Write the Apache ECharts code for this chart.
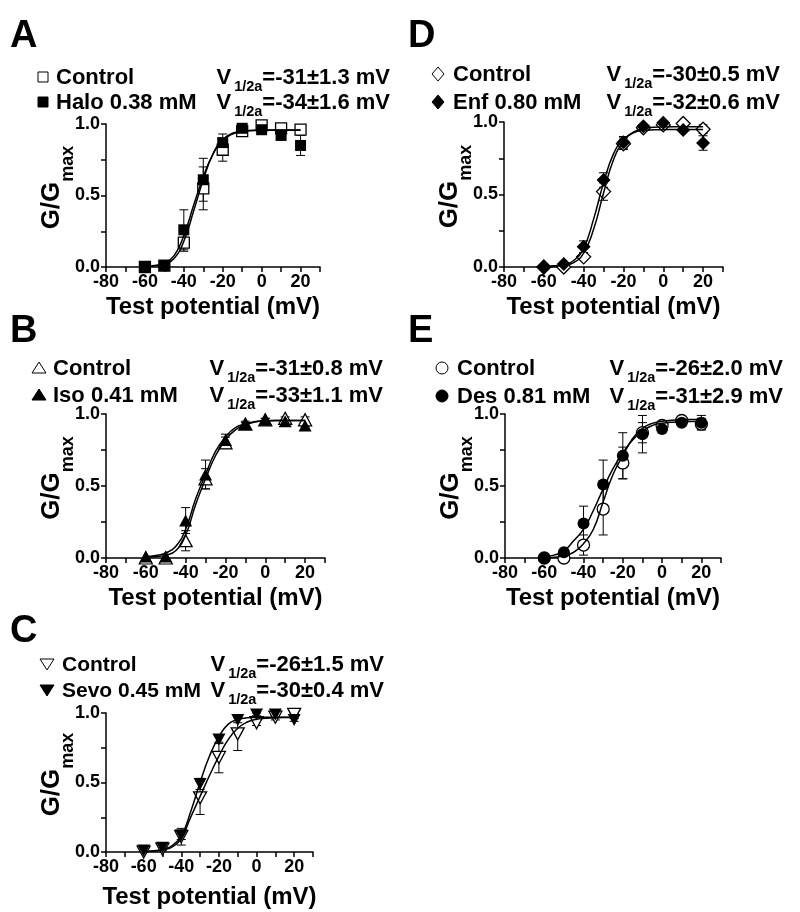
<!DOCTYPE html>
<html>
<head>
<meta charset="utf-8">
<script src="https://cdn.jsdelivr.net/npm/echarts@6/dist/echarts.min.js"></script>
<style>
  html, body { margin: 0; padding: 0; background: #fff; }
  #chart { width: 800px; height: 912px; }
</style>
</head>
<body>
<div id="chart"></div>
<script>
// ------------------------------
// DATA
// ------------------------------
const voltages = [-60, -50, -40, -30, -20, -10, 0, 10, 20];
const fitVoltages = [-60, -55, -50, -45, -40, -35, -30, -25, -20, -15, -10, -5, 0, 5, 10, 15, 20];
const xTickLabels = [-80, -60, -40, -20, 0, 20];
const yTickLabels = [0, 0.5, 1];

// A: halothane
const haloLabels = ["Control", "Halo 0.38 mM"];
const haloV = ["=-31\u00b11.3 mV", "=-34\u00b11.6 mV"];
const haloCtrl = [0, 0.01, 0.17, 0.55, 0.82, 0.95, 0.99, 0.97, 0.96];
const haloCtrlErr = [0, 0.01, 0.06, 0.15, 0.08, 0.02, 0.02, 0.02, 0.02];
const haloDrug = [0, 0.01, 0.26, 0.61, 0.87, 0.97, 0.96, 0.92, 0.85];
const haloDrugErr = [0, 0.01, 0.14, 0.15, 0.06, 0.02, 0.02, 0.02, 0.07];
const haloCtrlFit = [0.003, 0.008, 0.02, 0.06, 0.18, 0.39, 0.61, 0.79, 0.89, 0.935, 0.95, 0.955, 0.957, 0.958, 0.958, 0.958, 0.958];
const haloDrugFit = [0.004, 0.01, 0.027, 0.08, 0.22, 0.43, 0.63, 0.79, 0.885, 0.93, 0.948, 0.954, 0.956, 0.957, 0.957, 0.957, 0.957];

// B: isoflurane
const isoLabels = ["Control", "Iso 0.41 mM"];
const isoV = ["=-31\u00b10.8 mV", "=-33\u00b11.1 mV"];
const isoCtrl = [0, 0, 0.12, 0.55, 0.8, 0.93, 0.96, 0.97, 0.96];
const isoCtrlErr = [0, 0, 0.07, 0.07, 0.04, 0.02, 0.01, 0.01, 0.02];
const isoDrug = [0.01, 0.01, 0.26, 0.58, 0.82, 0.93, 0.96, 0.95, 0.92];
const isoDrugErr = [0, 0, 0.09, 0.1, 0.04, 0.01, 0.01, 0.01, 0.01];
const isoCtrlFit = [0.005, 0.01, 0.02, 0.05, 0.16, 0.37, 0.55, 0.71, 0.82, 0.89, 0.925, 0.945, 0.952, 0.955, 0.955, 0.955, 0.955];
const isoDrugFit = [0.01, 0.018, 0.035, 0.08, 0.2, 0.41, 0.58, 0.74, 0.84, 0.905, 0.93, 0.948, 0.953, 0.955, 0.955, 0.955, 0.955];

// C: sevoflurane
const sevoLabels = ["Control", "Sevo 0.45 mM"];
const sevoV = ["=-26\u00b11.5 mV", "=-30\u00b10.4 mV"];
const sevoCtrl = [0, 0.02, 0.11, 0.39, 0.68, 0.85, 0.93, 0.97, 0.99];
const sevoCtrlErr = [0, 0.01, 0.06, 0.12, 0.11, 0.12, 0.02, 0.02, 0.01];
const sevoDrug = [0.01, 0.03, 0.12, 0.49, 0.81, 0.95, 0.99, 0.99, 0.95];
const sevoDrugErr = [0, 0, 0.03, 0.04, 0.03, 0.02, 0.01, 0.01, 0.01];
const sevoCtrlFit = [0.003, 0.007, 0.015, 0.035, 0.1, 0.25, 0.4, 0.55, 0.69, 0.81, 0.89, 0.935, 0.955, 0.962, 0.966, 0.967, 0.967];
const sevoDrugFit = [0.003, 0.008, 0.018, 0.045, 0.115, 0.29, 0.5, 0.69, 0.83, 0.92, 0.952, 0.965, 0.968, 0.97, 0.97, 0.97, 0.97];

// D: enflurane
const enfLabels = ["Control", "Enf 0.80 mM"];
const enfV = ["=-30\u00b10.5 mV", "=-32\u00b10.6 mV"];
const enfCtrl = [0, 0, 0.07, 0.52, 0.85, 0.96, 0.98, 0.99, 0.95];
const enfCtrlErr = [0, 0, 0.02, 0.06, 0.04, 0.01, 0.01, 0.01, 0.03];
const enfDrug = [0, 0.02, 0.14, 0.6, 0.86, 0.97, 0.995, 0.945, 0.855];
const enfDrugErr = [0, 0.01, 0.04, 0.05, 0.04, 0.01, 0.01, 0.01, 0.05];
const enfCtrlFit = [0.003, 0.006, 0.012, 0.03, 0.095, 0.26, 0.51, 0.74, 0.865, 0.93, 0.955, 0.963, 0.966, 0.967, 0.967, 0.967, 0.967];
const enfDrugFit = [0.004, 0.008, 0.018, 0.045, 0.13, 0.33, 0.58, 0.78, 0.88, 0.925, 0.942, 0.946, 0.947, 0.948, 0.948, 0.948, 0.948];

// E: desflurane
const desLabels = ["Control", "Des 0.81 mM"];
const desV = ["=-26\u00b12.0 mV", "=-31\u00b12.9 mV"];
const desCtrl = [0, 0, 0.09, 0.34, 0.66, 0.87, 0.92, 0.955, 0.93];
const desCtrlErr = [0, 0.01, 0.07, 0.18, 0.11, 0.07, 0.02, 0.01, 0.04];
const desDrug = [0, 0.04, 0.24, 0.51, 0.71, 0.86, 0.895, 0.94, 0.94];
const desDrugErr = [0, 0.01, 0.12, 0.17, 0.16, 0.13, 0.02, 0.01, 0.05];
const desCtrlFit = [0.002, 0.006, 0.015, 0.04, 0.1, 0.2, 0.39, 0.58, 0.71, 0.83, 0.9, 0.935, 0.95, 0.957, 0.96, 0.962, 0.962];
const desDrugFit = [0.01, 0.02, 0.05, 0.12, 0.2, 0.33, 0.48, 0.62, 0.73, 0.82, 0.88, 0.92, 0.935, 0.943, 0.946, 0.948, 0.95];

// ------------------------------
// LAYOUT
// ------------------------------
const FONT = '"Liberation Sans", Arial, Helvetica, sans-serif';

const panels = [
  { letter: "A", letterAt: [10, 50], grid: { left: 106, top: 124, width: 214, height: 143 }, nameGap: 28,
    symbol: "rect", symbolSize: 11, rotate: 0, legendShape: "rect", labelSize: 22,
    labels: haloLabels, vhalf: haloV,
    ctrl: [haloCtrl, haloCtrlErr, haloCtrlFit], drug: [haloDrug, haloDrugErr, haloDrugFit],
    legend: { symX: 43, labelX: 56, right: 390, base: [86, 111] } },
  { letter: "B", letterAt: [10, 345], grid: { left: 106, top: 414, width: 219, height: 144 }, nameGap: 28,
    symbol: "triangle", symbolSize: [13, 12], rotate: 0, legendShape: "triangle", labelSize: 22,
    labels: isoLabels, vhalf: isoV,
    ctrl: [isoCtrl, isoCtrlErr, isoCtrlFit], drug: [isoDrug, isoDrugErr, isoDrugFit],
    legend: { symX: 39, labelX: 53, right: 383, base: [377, 404] } },
  { letter: "C", letterAt: [10, 645], grid: { left: 106, top: 713, width: 207, height: 139 }, nameGap: 33,
    symbol: "triangle", symbolSize: [13, 12], rotate: 180, legendShape: "triangleDown", labelSize: 21,
    labels: sevoLabels, vhalf: sevoV,
    ctrl: [sevoCtrl, sevoCtrlErr, sevoCtrlFit], drug: [sevoDrug, sevoDrugErr, sevoDrugFit],
    legend: { symX: 47, labelX: 62, right: 384, base: [673, 699] } },
  { letter: "D", letterAt: [408, 50], grid: { left: 504, top: 122, width: 219, height: 145 }, nameGap: 28,
    symbol: "diamond", symbolSize: 14, rotate: 0, legendShape: "diamond", labelSize: 22,
    labels: enfLabels, vhalf: enfV,
    ctrl: [enfCtrl, enfCtrlErr, enfCtrlFit], drug: [enfDrug, enfDrugErr, enfDrugFit],
    legend: { symX: 438, labelX: 453, right: 780, base: [83, 111] } },
  { letter: "E", letterAt: [408, 345], grid: { left: 505, top: 414, width: 216, height: 144 }, nameGap: 28,
    symbol: "circle", symbolSize: 12, rotate: 0, legendShape: "circle", labelSize: 22,
    labels: desLabels, vhalf: desV,
    ctrl: [desCtrl, desCtrlErr, desCtrlFit], drug: [desDrug, desDrugErr, desDrugFit],
    legend: { symX: 442, labelX: 457, right: 783, base: [377, 405] } }
];

// ------------------------------
// HELPERS
// ------------------------------
let boldStyle = (size, extra) => Object.assign({
  fontSize: size, lineHeight: size, fontWeight: "bold", fontFamily: FONT, color: "#000", verticalAlign: "top"
}, extra || {});

// text whose alphabetic baseline sits at y
let txt = (x, baseline, str, size, align) => ({
  type: "text", x: x, y: baseline - 0.85 * size, silent: true,
  style: {
    text: "{m|" + str + "}", rich: { m: boldStyle(size) },
    align: align || "left", verticalAlign: "top", textAlign: align || "left", textVerticalAlign: "top"
  }
});

// "V1/2a=..." with subscript, right aligned at x
let vhalfText = (x, baseline, value) => ({
  type: "text", x: x, y: baseline - 18.7, silent: true,
  style: {
    text: "{m|V}{s|1/2a}{m|" + value + "}",
    rich: {
      m: boldStyle(22),
      s: boldStyle(14.5, { padding: [12, 0, 0, 3] })
    },
    align: "right", verticalAlign: "top", textAlign: "right", textVerticalAlign: "top"
  }
});

let legendSymbol = (shape, cx, cy, filled) => {
  const style = { fill: filled ? "#000" : "#fff", stroke: "#000", lineWidth: 1 };
  const s = 6;
  if (shape === "rect") return { type: "rect", shape: { x: cx - 5, y: cy - 5, width: 10, height: 10 }, style };
  if (shape === "circle") return { type: "circle", shape: { cx: cx, cy: cy, r: s }, style };
  let pts;
  if (shape === "triangle") pts = [[cx, cy - s], [cx + s + 1, cy + s - 1], [cx - s - 1, cy + s - 1]];
  else if (shape === "triangleDown") pts = [[cx - s - 1, cy - s + 1], [cx + s + 1, cy - s + 1], [cx, cy + s]];
  else pts = [[cx, cy - s - 1], [cx + s, cy], [cx, cy + s + 1], [cx - s, cy]];
  return { type: "polygon", shape: { points: pts }, style };
};

let renderErrorBar = (params, api) => {
  const x = api.value(0), m = api.value(1), e = api.value(2);
  if (!e) return null;
  const top = api.coord([x, m + e]);
  const bot = api.coord([x, m - e]);
  const w = 4.5;
  const st = { stroke: "#000", lineWidth: 1 };
  return {
    type: "group",
    children: [
      { type: "line", shape: { x1: top[0], y1: top[1], x2: bot[0], y2: bot[1] }, style: st },
      { type: "line", shape: { x1: top[0] - w, y1: top[1], x2: top[0] + w, y2: top[1] }, style: st },
      { type: "line", shape: { x1: bot[0] - w, y1: bot[1], x2: bot[0] + w, y2: bot[1] }, style: st }
    ]
  };
};

let axisText = { color: "#000", fontSize: 18, fontWeight: "bold", fontFamily: FONT };
let axisLine = { show: true, onZero: false, lineStyle: { color: "#000", width: 1.5 } };
let axisTick = { show: true, length: 5, lineStyle: { color: "#000", width: 1.5 } };

let xAxisFor = (p, i) => ({
  gridIndex: i, type: "value", min: -80, max: 30, interval: 10,
  axisLine, axisTick, splitLine: { show: false },
  axisLabel: Object.assign({ margin: 6, formatter: v => (xTickLabels.includes(v) ? String(v) : "") }, axisText),
  name: "Test potential (mV)", nameLocation: "middle", nameGap: p.nameGap, nameMoveOverlap: false,
  nameTextStyle: { color: "#000", fontSize: 24, fontWeight: "bold", fontFamily: FONT }
});

let yAxisFor = (p, i) => ({
  gridIndex: i, type: "value", min: 0, max: 1, interval: 0.25,
  axisLine, axisTick, splitLine: { show: false },
  axisLabel: Object.assign({ margin: 6, formatter: v => (yTickLabels.includes(v) ? v.toFixed(1) : "") }, axisText),
  name: "{a|G/G}{b|max}", nameLocation: "middle", nameGap: 41, nameRotate: 90, nameMoveOverlap: false,
  nameTextStyle: {
    padding: [0, 0, 0, 16],
    rich: {
      a: boldStyle(26),
      b: boldStyle(18, { padding: [20, 0, 0, 0] })
    }
  }
});

let seriesFor = (p, i) => {
  const pts = (mean, err) => voltages.map((v, k) => [v, mean[k], err[k]]);
  const fit = vals => fitVoltages.map((v, k) => [v, vals[k]]);
  const base = { xAxisIndex: i, yAxisIndex: i, animation: false };
  const marker = (mean, err, filled, z) => Object.assign({
    type: "scatter", data: pts(mean, err).map(d => [d[0], d[1]]), z: z,
    symbol: p.symbol, symbolSize: p.symbolSize, symbolRotate: p.rotate,
    itemStyle: { color: filled ? "#000" : "#fff", borderColor: "#000", borderWidth: filled ? 0 : 1.3, opacity: 1 },
    emphasis: { disabled: true }
  }, base);
  const bars = (mean, err) => Object.assign({
    type: "custom", renderItem: renderErrorBar, data: pts(mean, err), z: 1, encode: { x: 0, y: 1 }
  }, base);
  const curve = vals => Object.assign({
    type: "line", data: fit(vals), smooth: true, showSymbol: false, z: 4,
    lineStyle: { color: "#000", width: 1.5 }, emphasis: { disabled: true }
  }, base);
  return [
    bars(p.ctrl[0], p.ctrl[1]), bars(p.drug[0], p.drug[1]),
    marker(p.ctrl[0], p.ctrl[1], false, 2), marker(p.drug[0], p.drug[1], true, 3),
    curve(p.ctrl[2]), curve(p.drug[2])
  ];
};

let annotationsFor = p => {
  const L = p.legend;
  return [
    txt(p.letterAt[0], p.letterAt[1], p.letter, 38),
    legendSymbol(p.legendShape, L.symX, L.base[0] - 9, false),
    legendSymbol(p.legendShape, L.symX, L.base[1] - 9, true),
    txt(L.labelX, L.base[0], p.labels[0], p.labelSize),
    txt(L.labelX, L.base[1], p.labels[1], p.labelSize),
    vhalfText(L.right, L.base[0], p.vhalf[0]),
    vhalfText(L.right, L.base[1], p.vhalf[1])
  ];
};

// ------------------------------
// CHART
// ------------------------------
const chart = echarts.init(document.getElementById("chart"), null, { renderer: "canvas" });
chart.setOption({
  animation: false,
  backgroundColor: "#fff",
  textStyle: { fontFamily: FONT },
  grid: panels.map(p => Object.assign({ outerBoundsMode: "none", containLabel: false }, p.grid)),
  xAxis: panels.map(xAxisFor),
  yAxis: panels.map(yAxisFor),
  series: panels.flatMap(seriesFor),
  graphic: { elements: panels.flatMap(annotationsFor) }
});
</script>
</body>
</html>
